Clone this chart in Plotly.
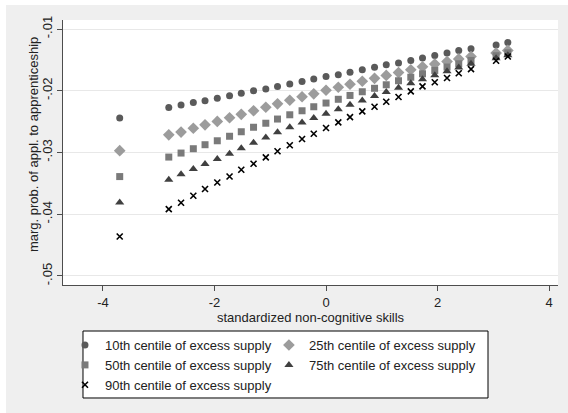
import plotly.graph_objects as go

# standardized non-cognitive skills (x positions of the predictions)
skills = [-3.70,
          -2.82, -2.60, -2.38, -2.17, -1.95, -1.73, -1.52, -1.30, -1.08, -0.87,
          -0.65, -0.43, -0.22, 0.00, 0.22, 0.43, 0.65, 0.87, 1.08, 1.30,
          1.52, 1.73, 1.95, 2.17, 2.38, 2.60,
          3.05, 3.26]

# marginal probability of application to apprenticeship, by centile of excess supply
p10 = [-0.0244,
       -0.0227, -0.0223, -0.0219, -0.0216, -0.0212, -0.0208, -0.0204, -0.0200, -0.0197, -0.0193,
       -0.0189, -0.0185, -0.0181, -0.0177, -0.0174, -0.0170, -0.0166, -0.0162, -0.0158, -0.0155,
       -0.0151, -0.0147, -0.0143, -0.0139, -0.0135, -0.0132,
       -0.0126, -0.0122]
p25 = [-0.0297,
       -0.02713, -0.02669, -0.02607, -0.02551, -0.02497, -0.02437, -0.02381, -0.02324, -0.02267, -0.02211,
       -0.02154, -0.02097, -0.02049, -0.01992, -0.01943, -0.01895, -0.01846, -0.01798, -0.01752, -0.01705,
       -0.01660, -0.01611, -0.01568, -0.01526, -0.01485, -0.01445,
       -0.01389, -0.01347]
p50 = [-0.0339,
       -0.03074, -0.03009, -0.02939, -0.02874, -0.02810, -0.02737, -0.02664, -0.02591, -0.02526, -0.02458,
       -0.02389, -0.02324, -0.02259, -0.02199, -0.02138, -0.02076, -0.02016, -0.01960, -0.01903, -0.01838,
       -0.01781, -0.01725, -0.01671, -0.01616, -0.01563, -0.01509,
       -0.01433, -0.01385]
p75 = [-0.0381,
       -0.03441, -0.03352, -0.03268, -0.03185, -0.03104, -0.03020, -0.02931, -0.02842, -0.02756, -0.02672,
       -0.02591, -0.02515, -0.02442, -0.02372, -0.02300, -0.02227, -0.02157, -0.02086, -0.02019, -0.01951,
       -0.01879, -0.01814, -0.01749, -0.01684, -0.01623, -0.01563,
       -0.01474, -0.01425]
p90 = [-0.0436,
       -0.03916, -0.03814, -0.03700, -0.03592, -0.03485, -0.03388, -0.03279, -0.03182, -0.03080, -0.02980,
       -0.02883, -0.02782, -0.02696, -0.02604, -0.02513, -0.02426, -0.02335, -0.02259, -0.02178, -0.02102,
       -0.02011, -0.01930, -0.01862, -0.01794, -0.01717, -0.01649,
       -0.01514, -0.01445]

x_ticks = [-4, -2, 0, 2, 4]
x_labels = ['-4', '-2', '0', '2', '4']
y_ticks = [-0.05, -0.04, -0.03, -0.02, -0.01]
y_labels = ['-.05', '-.04', '-.03', '-.02', '-.01']

FONT = 'Liberation Sans, Arial, sans-serif'

# (名称, 数据, 符号, 大小, 颜色, 图例列)
series = [
    ('10th centile of excess supply', p10, 'circle', 7, '#5a5a5a', 'legend'),
    ('25th centile of excess supply', p25, 'diamond', 9, '#9c9c9c', 'legend2'),
    ('50th centile of excess supply', p50, 'square', 7, '#7a7a7a', 'legend'),
    ('75th centile of excess supply', p75, 'triangle-up', 8, '#404040', 'legend2'),
    ('90th centile of excess supply', p90, 'x-thin', 6, '#000000', 'legend'),
]

fig = go.Figure()
for name, vals, symbol, size, color, leg in series:
    marker = dict(symbol=symbol, size=size, color=color)
    if symbol == 'x-thin':
        marker['line'] = dict(color=color, width=1.6)
    fig.add_trace(go.Scatter(x=skills, y=vals, mode='markers', name=name, marker=marker, legend=leg))

# 外框左/上白边
fig.add_shape(type='rect', xref='paper', yref='paper',
              x0=-0.13, x1=-0.1152, y0=-0.5, y1=1.08,
              fillcolor='white', line_width=0, layer='above')
fig.add_shape(type='rect', xref='paper', yref='paper',
              x0=-0.13, x1=1.03, y0=1.0566, y1=1.08,
              fillcolor='white', line_width=0, layer='above')
# 图例框
fig.add_shape(type='rect', xref='paper', yref='paper',
              x0=0.0404, x1=0.8586, y0=-0.4264, y1=-0.1736,
              fillcolor='white', line=dict(color='#000000', width=1), layer='above')

# y 轴标题 (竖排)
fig.add_annotation(text='marg. prob. of appl. to apprenticeship', textangle=-90,
                   xref='paper', yref='paper', x=-0.0606, y=0.528,
                   xanchor='center', yanchor='middle', showarrow=False,
                   font=dict(size=13, color='#222222'))

legend_style = dict(
    orientation='v', y=-0.17, xanchor='left', yanchor='top',
    bgcolor='rgba(0,0,0,0)', borderwidth=0, tracegroupgap=0,
    font=dict(size=13), itemsizing='trace',
)

fig.update_layout(
    width=568, height=413,
    margin=dict(l=63, r=10, t=20, b=128),
    paper_bgcolor='#efefef',
    plot_bgcolor='white',
    font=dict(family=FONT, size=13, color='#222222'),
    showlegend=True,
    legend=dict(x=0.004, **legend_style),
    legend2=dict(x=0.416, **legend_style),
)
fig.update_xaxes(
    range=[-4.717, 4.16], tickvals=x_ticks, ticktext=x_labels, showgrid=False, zeroline=False,
    showline=True, linecolor='#4d4d4d', linewidth=1, automargin=False,
    ticks='outside', ticklen=5, tickcolor='#4d4d4d',
    title=dict(text='standardized non-cognitive skills', standoff=1, font=dict(size=13)),
)
fig.update_yaxes(
    range=[-0.05146, -0.00854], tickvals=y_ticks, ticktext=y_labels, tickangle=-90,
    showgrid=True, gridcolor='#e8e8e8', gridwidth=1, zeroline=False,
    showline=True, linecolor='#4d4d4d', linewidth=1, automargin=False,
    ticks='outside', ticklen=5, tickcolor='#4d4d4d',
)

# 去掉浏览器默认的 body 边距
fig.write_html('out.html', config={'displayModeBar': False},
               post_script="document.body.style.margin='0';")
